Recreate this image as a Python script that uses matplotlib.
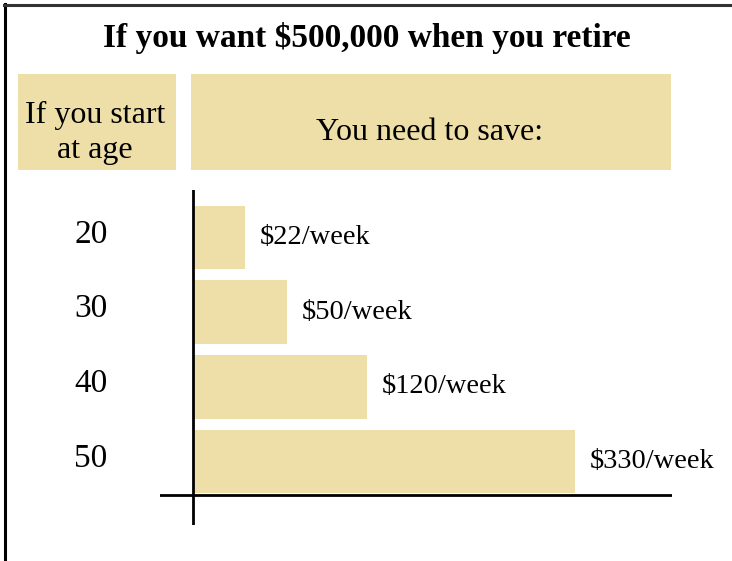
import matplotlib
matplotlib.use("Agg")
import matplotlib.pyplot as plt
from matplotlib.patches import Rectangle

# Data
ages = ["20", "30", "40", "50"]
savings_labels = ["$22/week", "$50/week", "$120/week", "$330/week"]
bar_lengths = [51, 93, 173, 381]   # visual bar lengths
title = "If you want $500,000 when you retire"
header_left = "If you start\nat age"
header_right = "You need to save:"

W, H = 732, 561
TAN = "#EEDFA8"
FONT = "Liberation Serif"

fig = plt.figure(figsize=(W / 100, H / 100), dpi=100)
fig.patch.set_facecolor("white")

def fx(px):
    return px / W

def fy(py):
    return 1 - py / H

# Border (left & top visible)
fig.add_artist(plt.Line2D([fx(5), fx(5)], [0, fy(4)], color="black", lw=2.2, transform=fig.transFigure))
fig.add_artist(plt.Line2D([fx(4), 1], [fy(5), fy(5)], color="#333333", lw=2.2, transform=fig.transFigure))

# Title
fig.text(fx(367), fy(38), title, ha="center", va="center", fontsize=24,
         fontweight="bold", family=FONT)

# Header boxes
fig.add_artist(Rectangle((fx(18), fy(170)), fx(176) - fx(18), fy(74) - fy(170),
                         transform=fig.transFigure, facecolor=TAN, edgecolor="none"))
fig.add_artist(Rectangle((fx(191), fy(170)), fx(671) - fx(191), fy(74) - fy(170),
                         transform=fig.transFigure, facecolor=TAN, edgecolor="none"))
fig.text(fx(95), fy(133), header_left, ha="center", va="center", fontsize=23,
         family=FONT, linespacing=1.3)
fig.text(fx(430), fy(132), header_right, ha="center", va="center", fontsize=23,
         family=FONT)

# Bar axes
ax = fig.add_axes([fx(160), fy(525), fx(672) - fx(160), fy(190) - fy(525)])
n = len(ages)
ypos = list(range(n))
ax.barh(ypos, bar_lengths, height=0.85, color=TAN, left=0)
ax.set_xlim(-34, 478)
ax.set_ylim(3.85, -0.636)
ax.axis("off")
ax.axvline(-1, color="black", lw=2)
ax.axhline(n - 1 + 0.45, color="black", lw=2)

for i, (w, lab) in enumerate(zip(bar_lengths, savings_labels)):
    ax.text(w + 15, i, lab, ha="left", va="center", fontsize=20.5,
            family=FONT, clip_on=False)
for i, a in enumerate(ages):
    ax.text(-103, i - 0.04, a, ha="center", va="center", fontsize=24,
            family=FONT, clip_on=False)

fig.savefig("out.png", dpi=100)
